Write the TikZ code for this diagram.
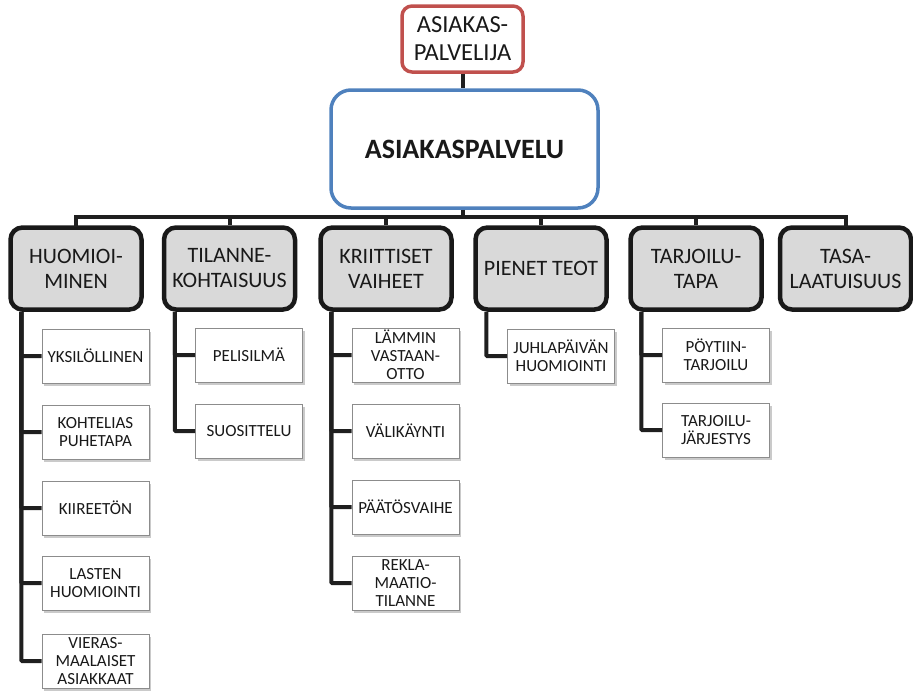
\documentclass[tikz,border=0pt]{standalone}
\usepackage{fontspec}
\setmainfont{Carlito}
\usetikzlibrary{shadows}
\definecolor{txt}{RGB}{25,25,25}
\definecolor{redb}{RGB}{192,80,77}
\definecolor{blueb}{RGB}{79,129,189}
\definecolor{lvl}{RGB}{217,217,217}
\definecolor{subb}{RGB}{140,140,140}
\tikzset{
  topbox/.style={draw=redb, line width=3.5pt, rounded corners=10pt, fill=white,
    minimum width=121pt, minimum height=66pt, inner sep=0pt, align=center,
    text=txt, font=\fontsize{24.5}{28}\selectfont},
  mainbox/.style={draw=blueb, line width=3.5pt, rounded corners=20pt, fill=white,
    minimum width=267pt, minimum height=118pt, inner sep=0pt, align=center,
    text=txt, font=\bfseries\fontsize{28}{30}\selectfont},
  lvlbox/.style={draw=black!90, line width=4.5pt, rounded corners=12pt, fill=lvl,
    minimum width=131pt, minimum height=82pt, inner sep=0pt, align=center,
    text=txt, font=\fontsize{22}{25}\selectfont},
  subbox/.style={draw=subb, line width=0.9pt, fill=white,
    drop shadow={shadow xshift=2pt, shadow yshift=-2.5pt, opacity=0.35, fill=black!60},
    minimum width=107pt, minimum height=54pt, inner sep=0pt, align=center,
    text=txt, font=\fontsize{17}{18}\selectfont},
  conn/.style={draw=black!88, line width=4pt},
}
\begin{document}
\begin{tikzpicture}[x=1pt,y=-1pt]
\useasboundingbox (0,0) rectangle (913,691);
% top
\node[topbox] (pj) at (462.5,39) {ASIAKAS-\\PALVELIJA};
\node[mainbox] (pv) at (464.5,149) {ASIAKASPALVELU};
% level 1
\node[lvlbox] (h) at (76,268.5) {HUOMIOI-\\MINEN};
\node[lvlbox] (t) at (229.5,268.5) {TILANNE-\\KOHTAISUUS};
\node[lvlbox] (k) at (386,268.5) {KRIITTISET\\VAIHEET};
\node[lvlbox] (p) at (541,268.5) {PIENET TEOT};
\node[lvlbox] (r) at (696,268.5) {TARJOILU-\\TAPA};
\node[lvlbox] (s) at (845.5,268.5) {TASA-\\LAATUISUUS};
% top connectors
\draw[conn] (pj.south) -- (pv.north -| pj.south);
\coordinate (bus) at (463,217);
\draw[conn] (pv.south -| bus) -- (bus);
\draw[conn, line cap=rect] (h.north) |- (bus) -| (s.north);
\foreach \n in {t,k,p,r} \draw[conn] (\n.north) -- (\n.north |- bus);
% sub boxes: HUOMIOIMINEN
\node[subbox] (h1) at (95.5,356) {YKSILÖLLINEN};
\node[subbox] (h2) at (95.5,432) {KOHTELIAS\\PUHETAPA};
\node[subbox] (h3) at (95.5,508) {KIIREETÖN};
\node[subbox] (h4) at (95.5,583) {LASTEN\\HUOMIOINTI};
\node[subbox] (h5) at (95.5,661) {VIERAS-\\MAALAISET\\ASIAKKAAT};
\foreach \i in {1,...,5} \draw[conn, rounded corners=1pt] ([xshift=13pt]h.south west) |- (h\i.west);
% TILANNEKOHTAISUUS
\node[subbox] (t1) at (249,355) {PELISILMÄ};
\node[subbox] (t2) at (249,431) {SUOSITTELU};
\foreach \i in {1,2} \draw[conn, rounded corners=1pt] ([xshift=13pt]t.south west) |- (t\i.west);
% KRIITTISET VAIHEET
\node[subbox] (k1) at (405.5,355) {LÄMMIN\\VASTAAN-\\OTTO};
\node[subbox] (k2) at (405.5,431) {VÄLIKÄYNTI};
\node[subbox] (k3) at (405.5,507) {PÄÄTÖSVAIHE};
\node[subbox] (k4) at (405.5,583) {REKLA-\\MAATIO-\\TILANNE};
\foreach \i in {1,...,4} \draw[conn, rounded corners=1pt] ([xshift=13pt]k.south west) |- (k\i.west);
% PIENET TEOT
\node[subbox] (p1) at (561,356) {JUHLAPÄIVÄN\\HUOMIOINTI};
\draw[conn, rounded corners=1pt] ([xshift=13pt]p.south west) |- (p1.west);
% TARJOILUTAPA
\node[subbox] (r1) at (716,355) {PÖYTIIN-\\TARJOILU};
\node[subbox] (r2) at (716,430) {TARJOILU-\\JÄRJESTYS};
\foreach \i in {1,2} \draw[conn, rounded corners=1pt] ([xshift=13pt]r.south west) |- (r\i.west);
\end{tikzpicture}
\end{document}
